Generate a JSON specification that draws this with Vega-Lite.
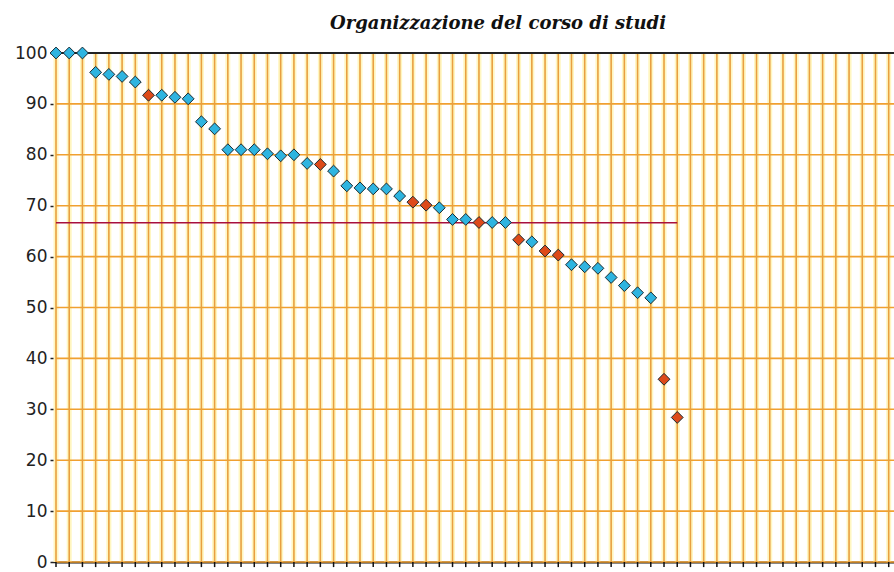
{
  "$schema": "https://vega.github.io/schema/vega-lite/v6.json",
  "autosize": "none",
  "width": 838,
  "height": 509,
  "padding": {"left": 56, "top": 53, "right": 0, "bottom": 10},
  "background": "white",
  "title": {
    "text": "Organizzazione del corso di studi",
    "font": "DejaVu Serif",
    "fontSize": 18,
    "fontWeight": "bold",
    "fontStyle": "italic",
    "color": "#111",
    "anchor": "middle",
    "dx": 23,
    "offset": 11
  },
  "datasets": {
    "pts": [
      {"i": 0, "v": 100, "g": "b"},
      {"i": 1, "v": 100, "g": "b"},
      {"i": 2, "v": 100, "g": "b"},
      {"i": 3, "v": 96.2, "g": "b"},
      {"i": 4, "v": 95.8, "g": "b"},
      {"i": 5, "v": 95.4, "g": "b"},
      {"i": 6, "v": 94.3, "g": "b"},
      {"i": 7, "v": 91.7, "g": "r"},
      {"i": 8, "v": 91.7, "g": "b"},
      {"i": 9, "v": 91.3, "g": "b"},
      {"i": 10, "v": 91.0, "g": "b"},
      {"i": 11, "v": 86.5, "g": "b"},
      {"i": 12, "v": 85.1, "g": "b"},
      {"i": 13, "v": 81.0, "g": "b"},
      {"i": 14, "v": 81.0, "g": "b"},
      {"i": 15, "v": 81.0, "g": "b"},
      {"i": 16, "v": 80.2, "g": "b"},
      {"i": 17, "v": 79.8, "g": "b"},
      {"i": 18, "v": 80.0, "g": "b"},
      {"i": 19, "v": 78.3, "g": "b"},
      {"i": 20, "v": 78.1, "g": "r"},
      {"i": 21, "v": 76.8, "g": "b"},
      {"i": 22, "v": 73.9, "g": "b"},
      {"i": 23, "v": 73.5, "g": "b"},
      {"i": 24, "v": 73.3, "g": "b"},
      {"i": 25, "v": 73.3, "g": "b"},
      {"i": 26, "v": 71.9, "g": "b"},
      {"i": 27, "v": 70.7, "g": "r"},
      {"i": 28, "v": 70.1, "g": "r"},
      {"i": 29, "v": 69.6, "g": "b"},
      {"i": 30, "v": 67.3, "g": "b"},
      {"i": 31, "v": 67.3, "g": "b"},
      {"i": 32, "v": 66.7, "g": "r"},
      {"i": 33, "v": 66.7, "g": "b"},
      {"i": 34, "v": 66.7, "g": "b"},
      {"i": 35, "v": 63.3, "g": "r"},
      {"i": 36, "v": 62.9, "g": "b"},
      {"i": 37, "v": 61.1, "g": "r"},
      {"i": 38, "v": 60.3, "g": "r"},
      {"i": 39, "v": 58.4, "g": "b"},
      {"i": 40, "v": 58.0, "g": "b"},
      {"i": 41, "v": 57.7, "g": "b"},
      {"i": 42, "v": 55.9, "g": "b"},
      {"i": 43, "v": 54.3, "g": "b"},
      {"i": 44, "v": 52.9, "g": "b"},
      {"i": 45, "v": 51.9, "g": "b"},
      {"i": 46, "v": 35.9, "g": "r"},
      {"i": 47, "v": 28.4, "g": "r"}
    ],
    "ref": [
      {"x0": 0, "x1": 47, "y": 66.67}
    ],
    "ygrid": [
      {"y": 0},{"y": 10},{"y": 20},{"y": 30},{"y": 40},{"y": 50},{"y": 60},{"y": 70},{"y": 80},{"y": 90}
    ],
    "ticks": [
      {"t": 0},{"t": 1},{"t": 2},{"t": 3},{"t": 4},{"t": 5},{"t": 6},{"t": 7},{"t": 8},{"t": 9},
      {"t": 10},{"t": 11},{"t": 12},{"t": 13},{"t": 14},{"t": 15},{"t": 16},{"t": 17},{"t": 18},{"t": 19},
      {"t": 20},{"t": 21},{"t": 22},{"t": 23},{"t": 24},{"t": 25},{"t": 26},{"t": 27},{"t": 28},{"t": 29},
      {"t": 30},{"t": 31},{"t": 32},{"t": 33},{"t": 34},{"t": 35},{"t": 36},{"t": 37},{"t": 38},{"t": 39},
      {"t": 40},{"t": 41},{"t": 42},{"t": 43},{"t": 44},{"t": 45},{"t": 46},{"t": 47},{"t": 48},{"t": 49},
      {"t": 50},{"t": 51},{"t": 52},{"t": 53},{"t": 54},{"t": 55},{"t": 56},{"t": 57},{"t": 58},{"t": 59},
      {"t": 60},{"t": 61},{"t": 62},{"t": 63}
    ]
  },
  "layer": [
    {
      "data": {"name": "ticks"},
      "mark": {"type": "rule", "color": "#fff6c0", "strokeWidth": 5},
      "encoding": {
        "x": {
          "field": "t",
          "type": "quantitative",
          "scale": {"domain": [0, 63.4], "nice": false, "zero": false},
          "axis": {
            "title": null,
            "labels": false,
            "ticks": false,
            "grid": false,
            "domainColor": "#111",
            "domainWidth": 2
          }
        }
      }
    },
    {
      "data": {"name": "ygrid"},
      "mark": {"type": "rule", "color": "#f0a030", "strokeWidth": 1.6},
      "encoding": {
        "y": {
          "field": "y",
          "type": "quantitative",
          "scale": {"domain": [0, 100], "nice": false},
          "axis": {
            "title": null,
            "values": [0,10,20,30,40,50,60,70,80,90,100],
            "grid": false,
            "domainColor": "#222",
            "domainWidth": 2,
            "tickColor": "#222",
            "tickWidth": 1.5,
            "tickSize": 6,
            "labelFont": "DejaVu Sans",
            "labelFontSize": 17,
            "labelColor": "#222",
            "labelPadding": 3
          }
        }
      }
    },
    {
      "data": {"name": "ticks"},
      "mark": {"type": "rule", "color": "#e8a040", "strokeWidth": 1.6},
      "encoding": {
        "x": {"field": "t", "type": "quantitative"}
      }
    },
    {
      "data": {"name": "ticks"},
      "mark": {"type": "rule", "color": "#111", "strokeWidth": 1.5, "clip": false},
      "encoding": {
        "x": {"field": "t", "type": "quantitative"},
        "y": {"datum": 0, "type": "quantitative"},
        "y2": {"datum": -1}
      }
    },
    {
      "data": {"name": "ref"},
      "mark": {"type": "rule", "color": "#222", "strokeWidth": 2},
      "encoding": {
        "y": {"datum": 100, "type": "quantitative"}
      }
    },
    {
      "data": {"name": "ref"},
      "mark": {"type": "rule", "color": "#a8103c", "strokeWidth": 1.5},
      "encoding": {
        "x": {"field": "x0", "type": "quantitative"},
        "x2": {"field": "x1"},
        "y": {"field": "y", "type": "quantitative"}
      }
    },
    {
      "data": {"name": "pts"},
      "mark": {"type": "point", "shape": "diamond", "filled": true, "size": 140, "stroke": "#1a2a33", "strokeWidth": 1, "opacity": 1},
      "encoding": {
        "x": {"field": "i", "type": "quantitative"},
        "y": {"field": "v", "type": "quantitative"},
        "color": {
          "field": "g",
          "type": "nominal",
          "scale": {"domain": ["b", "r"], "range": ["#2eb4e0", "#dd4a1a"]},
          "legend": null
        }
      }
    }
  ],
  "config": {"view": {"stroke": null}}
}
